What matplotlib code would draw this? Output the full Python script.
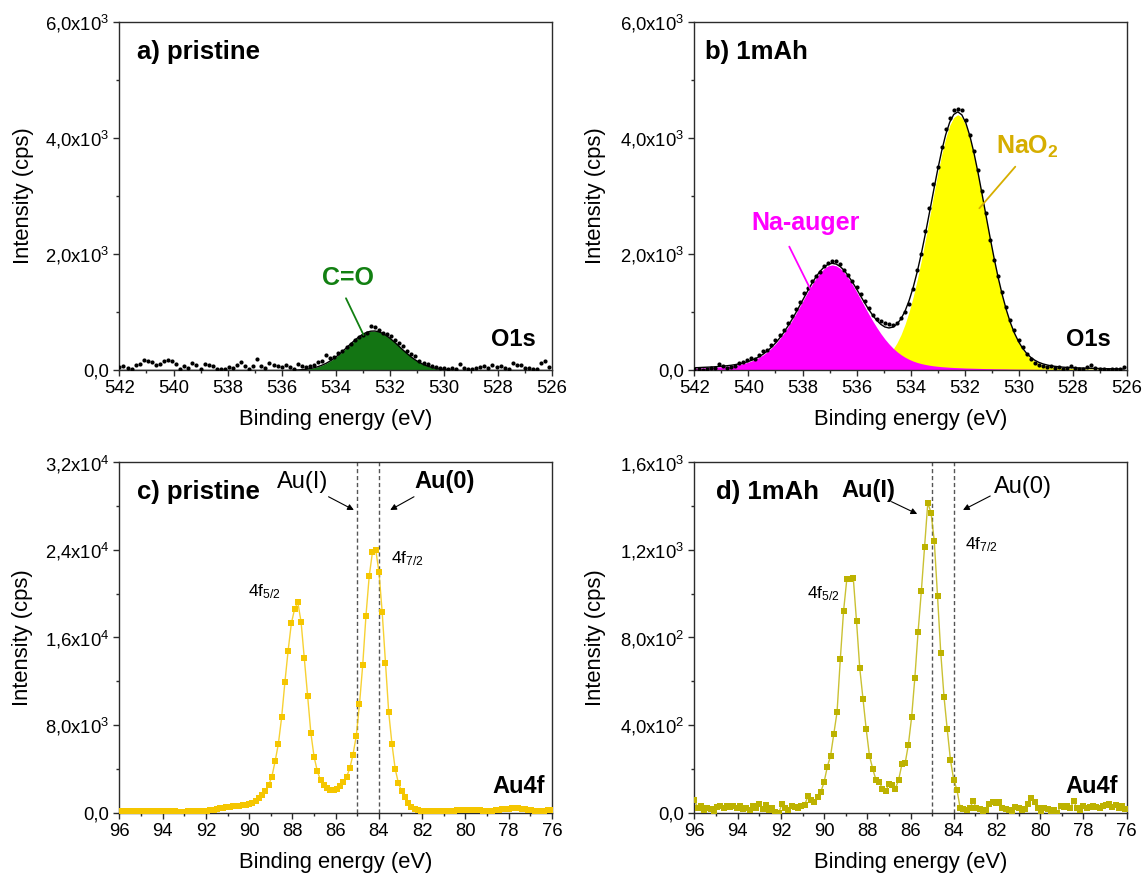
import numpy as np
import matplotlib
matplotlib.use("Agg")
import matplotlib.pyplot as plt
from matplotlib.ticker import MultipleLocator

plt.rcParams.update({
    "font.family": ["Liberation Sans", "DejaVu Sans"],
    "mathtext.fontset": "custom",
    "mathtext.rm": "Liberation Sans",
    "mathtext.bf": "Liberation Sans:bold",
    "mathtext.it": "Liberation Sans:italic",
    "mathtext.default": "regular",
})

# ---------------- data ----------------
# O1s region: energy grid start / step (eV)
o1s_start, o1s_step = 542.0, 0.15
o1s_pristine = [60, 80, 40, 20, 90, 110, 180, 160, 150, 100,
                110, 170, 175, 160, 110, 30, 70, 50, 130, 90,
                30, 110, 100, 80, 25, 25, 30, 60, 40, 90,
                140, 70, 30, 80, 190, 80, 40, 120, 100, 85,
                60, 90, 55, 30, 110, 70, 60, 80, 100, 140,
                170, 270, 220, 240, 300, 340, 400, 450, 520, 580,
                610, 650, 760, 750, 700, 650, 620, 590, 520, 470,
                420, 330, 280, 250, 160, 120, 110, 80, 60, 40,
                50, 30, 50, 20, 110, 40, 20, 30, 40, 60,
                70, 40, 90, 60, 80, 40, 30, 120, 100, 90,
                40, 50, 20, 30, 120, 170, 60]
o1s_pristine_co = [0] * 42 + [3, 5, 9, 14, 21, 32, 47, 66, 92, 124,
                              164, 212, 267, 327, 391, 456, 518, 575, 622, 657,
                              676, 679, 665, 635, 592, 538, 477, 413, 348, 286,
                              230, 180, 137, 102, 74, 53, 36, 24, 16, 10,
                              6, 4] + [0] * 23
o1s_1mah = [20, 30, 10, 25, 40, 35, 110, 80, 40, 60,
            75, 120, 140, 180, 210, 190, 260, 330, 360, 430,
            520, 610, 700, 820, 940, 1050, 1180, 1330, 1420, 1540,
            1620, 1700, 1790, 1850, 1880, 1890, 1830, 1720, 1640, 1540,
            1430, 1310, 1200, 1080, 960, 880, 850, 820, 800, 790,
            820, 900, 1000, 1150, 1400, 1720, 2000, 2400, 2800, 3200,
            3500, 3850, 4150, 4350, 4480, 4500, 4480, 4300, 4050, 3780,
            3450, 3080, 2700, 2250, 1900, 1620, 1350, 1100, 870, 700,
            520, 400, 290, 200, 120, 100, 80, 60, 70, 40,
            60, 30, 50, 80, 40, 30, 20, 60, 90, 50,
            30, 20, 15, 20, 25, 30, 60]
o1s_1mah_auger = [40, 42, 45, 48, 51, 55, 60, 65, 72, 80,
                  90, 103, 118, 137, 161, 191, 227, 271, 323, 385,
                  458, 541, 635, 739, 853, 973, 1100, 1228, 1356, 1477,
                  1587, 1682, 1754, 1799, 1815, 1799, 1754, 1682, 1587, 1477,
                  1356, 1228, 1100, 973, 853, 739, 635, 541, 458, 385,
                  323, 271, 227, 191, 161, 137, 118, 103, 90, 80,
                  72, 65, 60, 55, 51, 48, 45, 42, 40, 38,
                  36, 34, 32, 31, 29, 28, 27, 26, 24, 23,
                  22, 22, 21, 20, 19, 18, 18, 17, 16, 16,
                  15, 15, 14, 14, 13, 13, 13, 12, 12, 11,
                  11, 11, 10, 10, 10, 9, 9]
o1s_1mah_nao2 = [7, 7, 8, 8, 8, 8, 9, 9, 9, 9,
                 10, 10, 10, 11, 11, 11, 12, 12, 13, 13,
                 14, 14, 15, 16, 16, 17, 18, 19, 20, 21,
                 23, 24, 25, 27, 28, 30, 32, 35, 38, 42,
                 48, 55, 64, 78, 96, 122, 158, 207, 273, 361,
                 475, 618, 797, 1014, 1270, 1563, 1892, 2248, 2622, 3000,
                 3367, 3703, 3991, 4213, 4352, 4400, 4352, 4213, 3991, 3703,
                 3367, 3000, 2622, 2248, 1892, 1563, 1270, 1014, 797, 618,
                 475, 361, 273, 207, 158, 122, 96, 78, 64, 55,
                 48, 42, 38, 35, 32, 30, 28, 27, 25, 24,
                 23, 21, 20, 19, 18, 17, 16]

# Au4f region
au_start, au_step = 96.0, 0.15
au_pristine = [120, 130, 120, 140, 130, 120, 140, 130, 120, 110,
               120, 130, 120, 110, 100, 110, 120, 110, 100, 90,
               100, 110, 100, 110, 120, 130,
               160, 190, 230, 280, 330, 390, 450, 510, 560, 600, 630, 650, 680, 710,
               760, 900, 1100, 1380, 1650, 2000, 2500, 3300, 4700, 6300,
               8700, 11900, 14800, 17300,
               18600, 19200, 17400, 14100, 10700, 7300, 5100, 3800, 2950, 2500,
               2250, 2100, 2070, 2150, 2400, 2800, 3250, 4050, 5300, 7000,
               9900, 13500, 18000, 21600, 23800, 24000, 22000, 18300, 13700, 9200,
               6300, 4000, 2700, 1950, 1400, 900, 550, 300, 200, 160,
               140,
               150, 140, 150, 140, 150, 150, 160, 170, 180, 200,
               220, 240, 250, 250, 240, 220, 200, 180, 170, 170,
               180, 200, 240, 290, 340, 380, 410, 420, 410, 380,
               330, 270, 220, 180, 160, 150, 160, 200, 250]
au_1mah = [60, 20, 30, 10, 20, 15, 5, 25, 30, 20,
           30, 25, 30, 20, 30, 15, 20, 10, 30, 20,
           40, 15, 35, 10, 20, 5, 0, 40, 20, 10,
           30, 25, 20, 30, 35,
           75, 60, 50, 70, 95, 140, 210, 260, 360, 460,
           700, 920, 1065, 1068, 1072, 875, 660, 520, 380, 260, 200, 150,
           140, 110, 100, 130, 125, 110, 150, 220, 225, 310,
           435, 615, 825, 1010, 1215, 1415, 1370, 1240, 990, 730, 530, 380, 240, 150, 105,
           20, 15, 10, 20, 55, 20, 15, 5, 10, 40,
           50, 45, 50, 20, 15, 10, 5, 25, 20, 10,
           15, 40, 65, 50, 20, 5, 20, 15, 5, 10,
           0, 30, 25, 30, 20, 55, 20, 10, 30, 20,
           25, 30, 25, 20, 30, 35, 40, 25, 35, 20,
           30, 15]

au_reference_lines = [85.0, 84.0]

o1s_xticks = [542, 540, 538, 536, 534, 532, 530, 528, 526]
au_xticks = [96, 94, 92, 90, 88, 86, 84, 82, 80, 78, 76]
o1s_yticks = [0, 2000, 4000, 6000]
o1s_ylabels = ["0,0", "2,0x10$^3$", "4,0x10$^3$", "6,0x10$^3$"]
au_pr_yticks = [0, 8000, 16000, 24000, 32000]
au_pr_ylabels = ["0,0", "8,0x10$^3$", "1,6x10$^4$", "2,4x10$^4$", "3,2x10$^4$"]
au_1m_yticks = [0, 400, 800, 1200, 1600]
au_1m_ylabels = ["0,0", "4,0x10$^2$", "8,0x10$^2$", "1,2x10$^3$", "1,6x10$^3$"]

# energy axes
be_o1s = o1s_start - o1s_step * np.arange(len(o1s_pristine))
be_o1s_b = o1s_start - o1s_step * np.arange(len(o1s_1mah))
be_au_a = au_start - au_step * np.arange(len(au_pristine))
be_au_b = au_start - au_step * np.arange(len(au_1mah))
auger = np.array(o1s_1mah_auger, dtype=float)
nao2 = np.array(o1s_1mah_nao2, dtype=float)
envelope_b = auger + nao2

# ---------------- styles ----------------
SPINE = "#2b2b2b"
GREEN_FILL = "#137513"
GREEN_TXT = "#128012"
MAGENTA = "#FF00FF"
YELLOW = "#FFFF00"
GOLD_TXT = "#D6AE00"
AU_A = "#F5C600"
AU_B = "#BDB200"

fig = plt.figure(figsize=(11.43, 8.76), dpi=100)
ax_a = fig.add_axes([0.1045, 0.5771, 0.3784, 0.3982])
ax_b = fig.add_axes([0.6076, 0.5771, 0.3780, 0.3982])
ax_c = fig.add_axes([0.1045, 0.0723, 0.3784, 0.4000])
ax_d = fig.add_axes([0.6076, 0.0723, 0.3780, 0.4000])


def style(ax, xticks, yticks, ylabels, ymax, ylab_x):
    ax.set_xlim(xticks[0], xticks[-1])
    ax.set_ylim(0, ymax)
    ax.set_xticks(xticks, [str(t) for t in xticks])
    ax.xaxis.set_minor_locator(MultipleLocator(1))
    ax.set_yticks(yticks, ylabels)
    ax.yaxis.set_minor_locator(MultipleLocator(yticks[1] / 2))
    for s in ax.spines.values():
        s.set_color(SPINE)
        s.set_linewidth(1.0)
    ax.tick_params(which="major", direction="out", length=4.2, width=1.0,
                   color=SPINE, labelsize=13.3, pad=3, top=False, right=False)
    ax.tick_params(which="minor", direction="out", length=2.2, width=1.0,
                   color=SPINE, top=False, right=False)
    ax.set_xlabel("Binding energy (eV)", fontsize=15.8)
    ax.set_ylabel("Intensity (cps)", fontsize=15.8)
    ax.xaxis.set_label_coords(0.5, -0.111)
    ax.yaxis.set_label_coords(ylab_x, 0.5)


# ---- a) pristine O1s ----
ax = ax_a
ax.fill_between(be_o1s, 0, o1s_pristine_co, color=GREEN_FILL, lw=0, zorder=1)
ax.plot(be_o1s, o1s_pristine_co, color="k", lw=1.0, zorder=2)
ax.plot(be_o1s, o1s_pristine, "o", color="k", ms=3.0, mew=0, zorder=3)
style(ax, o1s_xticks, o1s_yticks, o1s_ylabels, 6000, -0.198)
ax.text(0.040, 0.914, "a) pristine", transform=ax.transAxes, fontsize=18.5,
        fontweight="bold", ha="left", va="center")
ax.text(526.6, 525, "O1s", fontsize=17, fontweight="bold", ha="right", va="center")
ax.text(533.55, 1585, "C=O", fontsize=18, fontweight="bold", color=GREEN_TXT,
        ha="center", va="center")
ax.annotate("", xy=(532.97, 611), xytext=(533.62, 1242),
            arrowprops=dict(arrowstyle="-", color=GREEN_TXT, lw=1.3,
                            shrinkA=0, shrinkB=0))

# ---- b) 1mAh O1s ----
ax = ax_b
ax.fill_between(be_o1s_b, 0, nao2, color=YELLOW, lw=0, zorder=1)
ax.fill_between(be_o1s_b, 0, auger, color=MAGENTA, lw=0, zorder=1.5)
ax.plot(be_o1s_b, envelope_b, color="k", lw=1.0, zorder=2)
ax.plot(be_o1s_b, o1s_1mah, "o", color="k", ms=3.0, mew=0, zorder=3)
style(ax, o1s_xticks, o1s_yticks, o1s_ylabels, 6000, -0.204)
ax.text(0.025, 0.914, "b) 1mAh", transform=ax.transAxes, fontsize=18.5,
        fontweight="bold", ha="left", va="center")
ax.text(526.6, 525, "O1s", fontsize=17, fontweight="bold", ha="right", va="center")
ax.text(537.89, 2537, "Na-auger", fontsize=18, fontweight="bold", color=MAGENTA,
        ha="center", va="center")
ax.annotate("", xy=(537.57, 1270), xytext=(538.49, 2130),
            arrowprops=dict(arrowstyle="-", color=MAGENTA, lw=1.3,
                            shrinkA=0, shrinkB=0))
ax.text(530.84, 3850, r"$\mathbf{NaO_2}$", fontsize=18, color=GOLD_TXT,
        ha="left", va="center")
ax.annotate("", xy=(531.45, 2790), xytext=(530.12, 3505),
            arrowprops=dict(arrowstyle="-", color=GOLD_TXT, lw=1.3,
                            shrinkA=0, shrinkB=0))

# ---- c) pristine Au4f ----
ax = ax_c
for xv in au_reference_lines:
    ax.axvline(xv, color="#555555", lw=1.0, ls=(0, (3, 2)), zorder=1)
ax.plot(be_au_a, au_pristine, "-", color=AU_A, lw=1.0, alpha=0.8, zorder=2)
ax.plot(be_au_a, au_pristine, "s", color=AU_A, ms=4.0, mew=0, zorder=3)
style(ax, au_xticks, au_pr_yticks, au_pr_ylabels, 32000, -0.199)
ax.text(0.041, 0.916, "c) pristine", transform=ax.transAxes, fontsize=18.5,
        fontweight="bold", ha="left", va="center")
ax.text(76.33, 2370, "Au4f", fontsize=17, fontweight="bold", ha="right", va="center")
ax.text(87.55, 30220, "Au(I)", fontsize=17, ha="center", va="center")
ax.text(80.96, 30220, "Au(0)", fontsize=17, fontweight="bold", ha="center", va="center")
ax.annotate("", xy=(85.16, 27640), xytext=(86.33, 28850),
            arrowprops=dict(arrowstyle="-|>", color="k", lw=0.8,
                            mutation_scale=9, shrinkA=0, shrinkB=0))
ax.annotate("", xy=(83.48, 27640), xytext=(82.38, 28850),
            arrowprops=dict(arrowstyle="-|>", color="k", lw=0.8,
                            mutation_scale=9, shrinkA=0, shrinkB=0))
ax.text(83.43, 23230, r"4f$_{7/2}$", fontsize=12.5, ha="left", va="center")
ax.text(90.06, 20180, r"4f$_{5/2}$", fontsize=12.5, ha="left", va="center")

# ---- d) 1mAh Au4f ----
ax = ax_d
for xv in au_reference_lines:
    ax.axvline(xv, color="#555555", lw=1.0, ls=(0, (3, 2)), zorder=1)
ax.plot(be_au_b, au_1mah, "-", color=AU_B, lw=1.0, alpha=0.8, zorder=2)
ax.plot(be_au_b, au_1mah, "s", color=AU_B, ms=4.0, mew=0, zorder=3)
style(ax, au_xticks, au_1m_yticks, au_1m_ylabels, 1600, -0.204)
ax.text(0.049, 0.916, "d) 1mAh", transform=ax.transAxes, fontsize=18.5,
        fontweight="bold", ha="left", va="center")
ax.text(76.4, 119, "Au4f", fontsize=17, fontweight="bold", ha="right", va="center")
ax.text(87.97, 1473, "Au(I)", fontsize=17, fontweight="bold", ha="center", va="center")
ax.text(80.78, 1489, "Au(0)", fontsize=17, ha="center", va="center")
ax.annotate("", xy=(85.69, 1364), xytext=(86.88, 1420),
            arrowprops=dict(arrowstyle="-|>", color="k", lw=0.8,
                            mutation_scale=9, shrinkA=0, shrinkB=0))
ax.annotate("", xy=(83.57, 1382), xytext=(82.31, 1446),
            arrowprops=dict(arrowstyle="-|>", color="k", lw=0.8,
                            mutation_scale=9, shrinkA=0, shrinkB=0))
ax.text(83.49, 1222, r"4f$_{7/2}$", fontsize=12.5, ha="left", va="center")
ax.text(90.8, 1002, r"4f$_{5/2}$", fontsize=12.5, ha="left", va="center")

fig.savefig("out.png", dpi=100)
